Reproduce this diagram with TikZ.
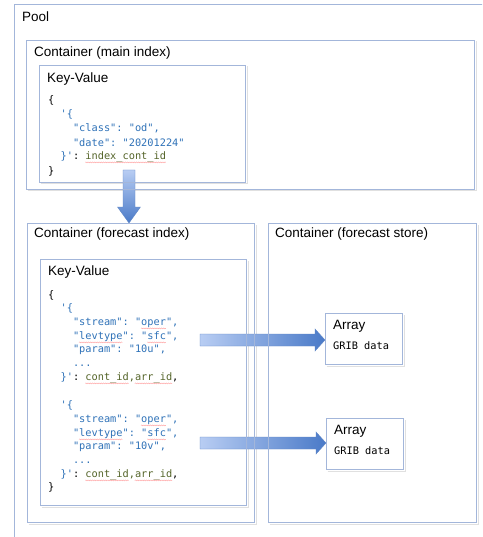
\documentclass[tikz,border=0pt]{standalone}
\usepackage{fontspec}
\setmainfont{Liberation Sans}
\setmonofont{DejaVu Sans Mono}
\usetikzlibrary{calc,decorations.pathmorphing,backgrounds}
\definecolor{boxc}{HTML}{A3B6DA}
\definecolor{codeblue}{HTML}{2F72B8}
\definecolor{codegreen}{HTML}{55652A}
\definecolor{arrlight}{HTML}{B8CDF3}
\definecolor{arrdark}{HTML}{4A7AC8}
\definecolor{arredge}{HTML}{5F86C6}
\newcommand\Q[1]{\symbol{34}#1\symbol{34}}
\newcommand\A{\symbol{39}}
\newcommand\B[1]{\textcolor{codeblue}{#1}}
\newcommand\G[1]{\textcolor{codegreen}{#1}}
\newcommand\codeln[4]{\node[code] (#1) at ({48+#2*6.2},{#3+3.6}) {#4};}
\newcommand\squigln[3]{\draw[squig] ({48+#1*6.2},{#3+6.4}) -- ({48+#2*6.2},{#3+6.4});}
\newcommand\boxshadow[1]{\draw[shad] ([xshift=1.5pt,yshift=-1.1pt]#1.south west) -- ([xshift=1.1pt,yshift=-1.1pt]#1.south east) -- ([xshift=1.1pt,yshift=-1.5pt]#1.north east);}
\newcommand\harrow[2]{\path[fath] let \p1=(#1), \p2=(#2) in (\x1,\y1+6pt) -- (\x2-10pt,\y1+6pt) -- (\x2-10pt,\y1+11pt) -- (\x2,\y1) -- (\x2-10pt,\y1-11pt) -- (\x2-10pt,\y1-6pt) -- (\x1,\y1-6pt) -- cycle;}
\newcommand\varrow[2]{\path[fatv] let \p1=(#1), \p2=(#2) in (\x1-6pt,\y1) -- (\x1-6pt,\y2+16pt) -- (\x1-11.5pt,\y2+16pt) -- (\x1,\y2) -- (\x1+11.5pt,\y2+16pt) -- (\x1+6pt,\y2+16pt) -- (\x1+6pt,\y1) -- cycle;}
\begin{document}
\begin{tikzpicture}[x=1pt,y=-1pt,
  box/.style={draw=boxc, line width=0.9pt, inner sep=0pt, anchor=north west},
  lbl/.style={anchor=west, inner sep=0pt, font=\fontsize{13.5}{16}\selectfont},
  code/.style={anchor=base west, inner sep=0pt, font=\ttfamily\fontsize{10.3}{12}\selectfont},
  small/.style={anchor=west, inner sep=0pt, font=\ttfamily\fontsize{10.3}{12}\selectfont},
  squig/.style={draw=red!40, line width=.35pt, decorate, decoration={snake, amplitude=.5pt, segment length=2.2pt}},
  shad/.style={draw=black!12, line width=1pt},
  fath/.style={left color=arrlight, right color=arrdark, draw=arredge, line width=.4pt},
  fatv/.style={top color=arrlight, bottom color=arrdark, draw=arredge, line width=.4pt}
]
\useasboundingbox (0,0) rectangle (482,537);
\clip (0,0) rectangle (482,537);

% boxes
\node[box, minimum width=490pt, minimum height=560pt] (pool) at (14,4) {};
\node[box, minimum width=448pt, minimum height=149pt] (mainc) at (26,40) {};
\node[box, minimum width=206pt, minimum height=117pt] (kv1) at (39,65) {};
\node[box, minimum width=227pt, minimum height=299pt] (fcidx) at (27,223) {};
\node[box, minimum width=206pt, minimum height=246pt] (kv2) at (40,259) {};
\node[box, minimum width=208pt, minimum height=299pt] (fcst) at (268,223) {};
\node[box, minimum width=77pt, minimum height=51pt] (arr1) at (325,313) {};
\node[box, minimum width=77pt, minimum height=51pt] (arr2) at (326,418) {};

% labels
\node[lbl] (tpool) at (22,17) {Pool};
\node[lbl] (tmain) at (34,53) {Container (main index)};
\node[lbl] (tkv1) at (47,79) {Key-Value};
\node[lbl] (tfcidx) at (34,234) {Container (forecast index)};
\node[lbl] (tfcst) at (275,234) {Container (forecast store)};
\node[lbl] (tkv2) at (48,272) {Key-Value};
\node[lbl] (tarr1) at (333,326) {Array};
\node[small] (garr1) at (333,346) {GRIB data};
\node[lbl] (tarr2) at (334,431) {Array};
\node[small] (garr2) at (334,451) {GRIB data};

% main index code
\codeln{a1}{0}{100}{\{}
\codeln{a2}{2}{114}{\B{\A\{}}
\codeln{a3}{4}{128}{\B{\Q{class}: \Q{od},}}
\codeln{a4}{4}{143}{\B{\Q{date}: \Q{20201224}}}
\codeln{a5}{2}{156}{\B{\}\A}: \G{index\_cont\_id}}
\codeln{a6}{0}{171}{\}}
\squigln{6}{19}{156}

% forecast index code
\codeln{b1}{0}{295}{\{}
\codeln{b2}{2}{308}{\B{\A\{}}
\codeln{b3}{4}{322}{\B{\Q{stream}: \Q{oper},}}
\codeln{b4}{4}{336}{\B{\Q{levtype}: \Q{sfc},}}
\codeln{b5}{4}{349}{\B{\Q{param}: \Q{10u},}}
\codeln{b6}{4}{363}{\B{...}}
\codeln{b7}{2}{377}{\B{\}\A}: \G{cont\_id,arr\_id},}
\codeln{b8}{2}{405}{\B{\A\{}}
\codeln{b9}{4}{419}{\B{\Q{stream}: \Q{oper},}}
\codeln{b10}{4}{433}{\B{\Q{levtype}: \Q{sfc},}}
\codeln{b11}{4}{446}{\B{\Q{param}: \Q{10v},}}
\codeln{b12}{4}{460}{\B{...}}
\codeln{b13}{2}{474}{\B{\}\A}: \G{cont\_id,arr\_id},}
\codeln{b14}{0}{487}{\}}
\squigln{15}{19}{322}
\squigln{5}{12}{336}
\squigln{16}{19}{336}
\squigln{6}{13}{377}
\squigln{14}{20}{377}
\squigln{15}{19}{419}
\squigln{5}{12}{433}
\squigln{16}{19}{433}
\squigln{6}{13}{474}
\squigln{14}{20}{474}

\coordinate (ds) at (129,170);
\coordinate (hs1) at (200,340);
\coordinate (hs2) at (200,443);

\begin{pgfonlayer}{background}
  \fill[white] (0,0) rectangle (482,537);
  \boxshadow{mainc}
  \boxshadow{kv1}
  \boxshadow{fcidx}
  \boxshadow{kv2}
  \boxshadow{fcst}
  \boxshadow{arr1}
  \boxshadow{arr2}
  \varrow{ds}{ds |- fcidx.north}
  \harrow{hs1}{hs1 -| arr1.west}
  \harrow{hs2}{hs2 -| arr2.west}
\end{pgfonlayer}
\end{tikzpicture}
\end{document}
